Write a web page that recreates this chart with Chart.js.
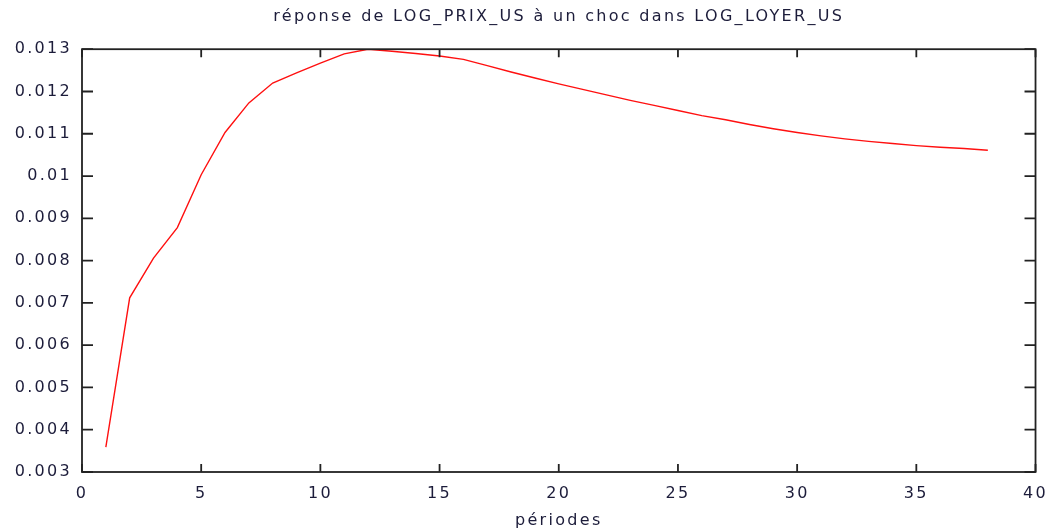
<!DOCTYPE html>
<html lang="fr">
<head>
    <meta charset="UTF-8">
    <title>réponse de LOG_PRIX_US à un choc dans LOG_LOYER_US</title>
    <script src="https://cdn.jsdelivr.net/npm/chart.js"></script>
    <style>
        body {
            margin: 0;
            background: #fff;
        }
        canvas {
            display: block;
        }
    </style>
</head>
<body>
    <canvas id="myChart" width="1060" height="531"></canvas>

    <script>
        const titre = 'réponse de LOG_PRIX_US à un choc dans LOG_LOYER_US';
        const axeX = 'périodes';

        const periodes = [1, 2, 3, 4, 5, 6, 7, 8, 9, 10, 11, 12, 13, 14, 15, 16, 17, 18, 19,
            20, 21, 22, 23, 24, 25, 26, 27, 28, 29, 30, 31, 32, 33, 34, 35, 36, 37, 38];
        const reponse = [0.00359, 0.00712, 0.00806, 0.00878, 0.01003, 0.01103, 0.01173, 0.01220,
            0.01244, 0.01267, 0.01289, 0.01300, 0.01295, 0.01290, 0.01284, 0.01276, 0.01261,
            0.01246, 0.01232, 0.01218, 0.01205, 0.01192, 0.01179, 0.01167, 0.01155, 0.01143,
            0.01133, 0.01122, 0.01112, 0.01103, 0.01095, 0.01088, 0.01082, 0.01077, 0.01072,
            0.01068, 0.01065, 0.01061];

        const xTicks = ['0', '5', '10', '15', '20', '25', '30', '35', '40'];
        const yTicks = ['0.003', '0.004', '0.005', '0.006', '0.007', '0.008', '0.009',
            '0.01', '0.011', '0.012', '0.013'];

        const couleurTexte = '#1c1c3a';
        const police = { family: 'DejaVu Sans', size: 16 };

        // gnuplot-like text is wide: add letter spacing on the canvas
        const espacement = {
            id: 'espacement',
            beforeUpdate(chart) { chart.ctx.letterSpacing = '2.3px'; },
            beforeDraw(chart) { chart.ctx.letterSpacing = '2.3px'; }
        };

        // frame with inward ticks on all four sides
        const cadre = {
            id: 'cadre',
            afterDraw(chart) {
                const { ctx, chartArea: a, scales } = chart;
                ctx.save();
                ctx.strokeStyle = '#222';
                ctx.lineWidth = 1.8;
                ctx.strokeRect(a.left, a.top, a.right - a.left, a.bottom - a.top);
                ctx.beginPath();
                scales.x.ticks.forEach(t => {
                    const px = scales.x.getPixelForValue(t.value);
                    ctx.moveTo(px, a.bottom); ctx.lineTo(px, a.bottom - 8);
                    ctx.moveTo(px, a.top); ctx.lineTo(px, a.top + 8);
                });
                scales.y.ticks.forEach(t => {
                    const py = scales.y.getPixelForValue(t.value);
                    ctx.moveTo(a.left, py); ctx.lineTo(a.left + 11, py);
                    ctx.moveTo(a.right, py); ctx.lineTo(a.right - 11, py);
                });
                ctx.stroke();
                ctx.restore();
            }
        };

        const ctx = document.getElementById('myChart').getContext('2d');
        new Chart(ctx, {
            type: 'line',
            data: {
                labels: periodes,
                datasets: [{
                    data: periodes.map((p, i) => ({ x: p, y: reponse[i] })),
                    borderColor: '#ff1010',
                    borderWidth: 1.4,
                    pointRadius: 0,
                    tension: 0,
                    fill: false
                }]
            },
            options: {
                responsive: false,
                animation: false,
                layout: { padding: { left: 0, right: 20, top: 0, bottom: 0 } },
                plugins: {
                    legend: { display: false },
                    tooltip: { enabled: false },
                    title: {
                        display: true,
                        text: titre,
                        fullSize: false,
                        color: couleurTexte,
                        font: { ...police, weight: 'normal' },
                        padding: { top: 7, bottom: 23 }
                    }
                },
                scales: {
                    x: {
                        type: 'linear',
                        min: 0,
                        max: 40,
                        border: { display: false },
                        grid: { display: false, drawTicks: false },
                        ticks: {
                            stepSize: 5,
                            padding: 12,
                            color: couleurTexte,
                            font: police,
                            callback: (v, i) => xTicks[i]
                        },
                        title: {
                            display: true,
                            text: axeX,
                            color: couleurTexte,
                            font: police,
                            padding: { top: 10, bottom: 1 }
                        },
                        afterFit: s => { s.height = 59; }
                    },
                    y: {
                        min: 0.003,
                        max: 0.013,
                        border: { display: false },
                        grid: { display: false, drawTicks: false },
                        ticks: {
                            stepSize: 0.001,
                            padding: 10,
                            color: couleurTexte,
                            font: police,
                            callback: (v, i) => yTicks[i]
                        },
                        afterFit: s => { s.width = 82; }
                    }
                }
            },
            plugins: [espacement, cadre]
        });
    </script>
</body>
</html>
